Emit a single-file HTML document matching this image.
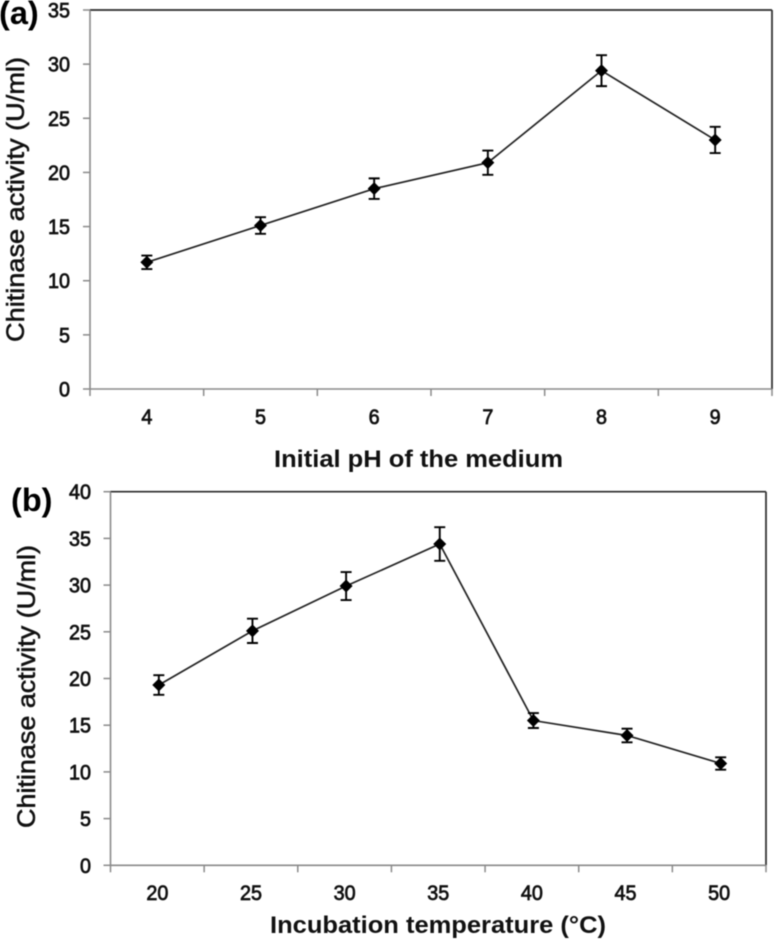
<!DOCTYPE html>
<html lang="en">
<head>
<meta charset="utf-8">
<title>Chitinase activity charts</title>
<style>
html,body{margin:0;padding:0;background:#fff;}
body{width:774px;height:939px;overflow:hidden;}
svg{display:block;filter:blur(0.4px);}
text{font-family:"Liberation Sans",sans-serif;fill:#111;}
.tick{font-size:21px;stroke:#111;stroke-width:.75px;}
.ytitle{font-size:25px;stroke:#111;stroke-width:.55px;}
.xtitle{font-size:24.5px;font-weight:bold;}
.panel{font-size:32.5px;font-weight:bold;fill:#000;}
</style>
</head>
<body>
<svg id="fig" width="774" height="939" viewBox="0 0 774 939" xmlns="http://www.w3.org/2000/svg">
  <text class="panel" x="-1" y="24">(a)</text>
  <text class="panel" x="11" y="511">(b)</text>
  <text class="ytitle" transform="translate(24,342) rotate(-90)" textLength="285" lengthAdjust="spacingAndGlyphs">Chitinase activity (U/ml)</text>
  <text class="xtitle" x="274" y="467" textLength="289" lengthAdjust="spacingAndGlyphs">Initial pH of the medium</text>
  <text class="ytitle" transform="translate(35,828) rotate(-90)" textLength="283" lengthAdjust="spacingAndGlyphs">Chitinase activity (U/ml)</text>
  <text class="xtitle" x="270" y="933" textLength="336" lengthAdjust="spacingAndGlyphs">Incubation temperature (°C)</text>
</svg>
<script>
const phCategories = ['4', '5', '6', '7', '8', '9'];
const phActivity = [11.7, 15.1, 18.5, 20.9, 29.4, 23.0];
const phError = [0.62, 0.77, 0.95, 1.12, 1.43, 1.21];
const phTicks = [0, 5, 10, 15, 20, 25, 30, 35];

const tempCategories = ['20', '25', '30', '35', '40', '45', '50'];
const tempActivity = [19.3, 25.1, 29.9, 34.4, 15.5, 13.9, 10.9];
const tempError = [1.05, 1.3, 1.5, 1.8, 0.8, 0.73, 0.66];
const tempTicks = [0, 5, 10, 15, 20, 25, 30, 35, 40];

const NS = 'http://www.w3.org/2000/svg';
const svg = document.getElementById('fig');

function add(tag, attrs, parent) {
  const el = document.createElementNS(NS, tag);
  for (const k in attrs) el.setAttribute(k, attrs[k]);
  (parent || svg).appendChild(el);
  return el;
}

function drawChart(p, categories, values, errors, ticks) {
  const maxY = ticks[ticks.length - 1];
  const band = (p.right - p.left) / categories.length;
  const xEdge = i => p.left + band * i;
  const xLabel = i => xEdge(i) + band / 2;
  const xMark = i => xLabel(i) + p.markOffset;
  const y = v => p.bottom - (p.bottom - p.top) * v / maxY;

  const g = add('g', {});
  
  

  const topLine = add('line', {x1: p.left, x2: p.right, y1: p.top, y2: p.top, stroke: '#2a2a2a', 'stroke-width': 1.7}, g);
  
  
  const rightLine = add('line', {x1: p.right, x2: p.right, y1: p.top, y2: p.bottom, stroke: '#2a2a2a', 'stroke-width': 1.7}, g);
  
  
  const yAxis = add('line', {x1: p.left, x2: p.left, y1: p.top, y2: p.bottom, stroke: '#8a8a8a', 'stroke-width': 1.6}, g);
  
  
  const xAxis = add('line', {x1: p.left, x2: p.right, y1: p.bottom, y2: p.bottom, stroke: '#8a8a8a', 'stroke-width': 1.6}, g);
  
  

  ticks.forEach(t => {
    const mark = add('line', {x1: p.left - 7, x2: p.left, y1: y(t), y2: y(t), stroke: '#8a8a8a', 'stroke-width': 1.5}, g);
    
    
    const label = add('text', {class: 'tick', x: p.yLabelX, y: y(t) + 7.5, 'text-anchor': 'end', textLength: String(t).length * 11, lengthAdjust: 'spacingAndGlyphs'}, g);
    label.textContent = String(t);
    
    
  });

  for (let i = 0; i <= categories.length; i++) {
    const mark = add('line', {x1: xEdge(i), x2: xEdge(i), y1: p.bottom, y2: p.bottom + 7, stroke: '#8a8a8a', 'stroke-width': 1.5}, g);
    
    
  }

  categories.forEach((c, i) => {
    const label = add('text', {class: 'tick', x: xLabel(i), y: p.xLabelY, 'text-anchor': 'middle', textLength: c.length * 11, lengthAdjust: 'spacingAndGlyphs'}, g);
    label.textContent = c;
    
    
  });

  const line = add('polyline', {
    points: values.map((v, i) => xMark(i) + ',' + y(v)).join(' '),
    fill: 'none', stroke: '#222', 'stroke-width': 1.7
  }, g);
  
  

  values.forEach((v, i) => {
    const cx = xMark(i), cy = y(v), hi = y(v + errors[i]), lo = y(v - errors[i]);
    const err = add('path', {
      d: 'M' + (cx - 5.5) + ' ' + hi + 'H' + (cx + 5.5) + 'M' + cx + ' ' + hi + 'V' + lo + 'M' + (cx - 5.5) + ' ' + lo + 'H' + (cx + 5.5),
      fill: 'none', stroke: '#000', 'stroke-width': 1.9
    }, g);
    
    
    const pt = add('path', {
      d: 'M' + cx + ' ' + (cy - 6.5) + 'L' + (cx + 6.5) + ' ' + cy + 'L' + cx + ' ' + (cy + 6.5) + 'L' + (cx - 6.5) + ' ' + cy + 'Z',
      fill: '#000'
    }, g);
    
    
  });
}

drawChart({id: 'ph', left: 90, right: 772, top: 10, bottom: 389, yLabelX: 70, xLabelY: 424, markOffset: 0},
  phCategories, phActivity, phError, phTicks);
drawChart({id: 'temperature', left: 110.5, right: 766, top: 491.7, bottom: 865.3, yLabelX: 91, xLabelY: 900, markOffset: 1.5},
  tempCategories, tempActivity, tempError, tempTicks);
</script>
</body>
</html>
